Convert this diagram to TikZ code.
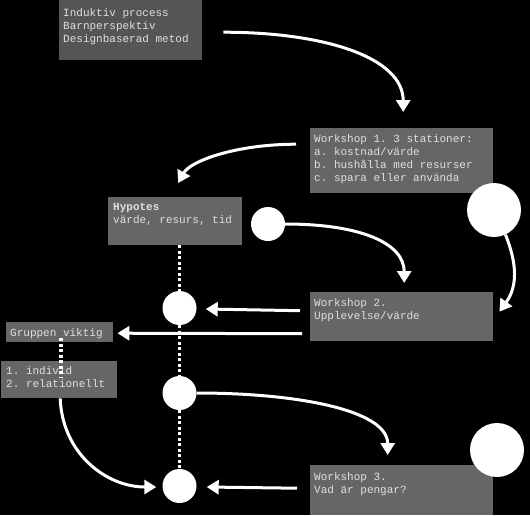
\documentclass[tikz,border=0pt]{standalone}
\usepackage{fontspec}
\setmonofont{Liberation Mono}
\usetikzlibrary{arrows.meta,calc}
\definecolor{boxgray}{HTML}{666666}
\definecolor{boxdark}{HTML}{555555}
\definecolor{txtgray}{HTML}{E0E0E0}
\begin{document}
\begin{tikzpicture}[x=1pt,y=-1pt,
  box/.style={fill=boxgray, inner sep=0, anchor=north west},
  txt/.style={font=\ttfamily\fontsize{11}{13}\selectfont, text=txtgray, align=left, inner sep=0, anchor=north west},
  dot/.style={circle, fill=white, inner sep=0, minimum size=34pt},
  bigdot/.style={circle, fill=white, inner sep=0, minimum size=54pt},
  arr/.style={white, line width=3pt, -{Triangle[width=14pt,length=12pt]}},
  dotline/.style={white, line width=3.5pt, dash pattern=on 3pt off 2.5pt}
]
\fill[black] (0,0) rectangle (530,515);
\useasboundingbox (0,0) rectangle (530,515);

% boxes
\node[box, fill=boxdark, minimum width=143pt, minimum height=60pt] (b1) at (59,0) {};
\node[box, minimum width=183pt, minimum height=65pt] (w1) at (310,128) {};
\node[box, minimum width=134pt, minimum height=48pt] (hyp) at (108,197) {};
\node[box, minimum width=183pt, minimum height=49pt] (w2) at (310,292) {};
\node[box, minimum width=107pt, minimum height=20pt] (grp) at (6,322) {};
\node[box, minimum width=116pt, minimum height=37pt] (ind) at (1,361) {};
\node[box, minimum width=183pt, minimum height=50pt] (w3) at (310,465) {};

% texts
\node[txt] (t1) at (63,8) {Induktiv process\\Barnperspektiv\\Designbaserad metod};
\node[txt] (tw1) at (314,134) {Workshop 1. 3 stationer:\\a. kostnad/värde\\b. hushålla med resurser\\c. spara eller använda};
\node[txt] (thyp) at (113,203) {\textbf{Hypotes}\\värde, resurs, tid};
\node[txt] (tw2) at (314,298) {Workshop 2.\\Upplevelse/värde};
\node[txt] (tgrp) at (10,328) {Gruppen viktig};
\node[txt] (tind) at (6,366) {1. individ\\2. relationellt};
\node[txt] (tw3) at (314,472) {Workshop 3.\\Vad är pengar?};

% circles
\node[dot] (c1) at (268,224) {};
\node[bigdot] (c2) at (494,210) {};
\node[dot] (p1) at (179.5,308) {};
\node[dot] (p2) at (179.5,393) {};
\node[dot] (p3) at (179.5,486) {};
\node[bigdot] (c3) at (497,450) {};

% dotted lines
\draw[dotline] (p1.north |- hyp.south) -- (p1.north);
\draw[dotline] (p1.south) -- (p2.north);
\draw[dotline] (p2.south) -- (p3.north);
\draw[dotline] ($(grp.south)+(1.5,-4)$) -- ($(grp.south)+(1.5,36)$);

% arrows
\draw[arr] ($(b1.east)+(21,2)$) .. controls +(100,0) and +(0,-55) .. ($(w1.north)+(1.5,-16)$);
\draw[arr] ($(w1.west)+(-14,-16.5)$) .. controls +(-60,0) and +(12,-22) .. ($(hyp.north)+(3,-14)$);
\draw[arr] (c1.east) .. controls +(75,0) and +(0,-40) .. ($(w2.north)+(2.5,-9)$);
\draw[arr] (c2.-65) .. controls +(12,30) and +(18,-25) .. ($(w2.east)+(6,-5)$);
\draw[arr] ($(w2.west)+(-10,-6)$) -- ($(p1.east)+(9,1)$);
\draw[arr] ($(w2.west)+(-8,17)$) -- ($(grp.east)+(4,1)$);
\draw[arr] (p2.east) .. controls +(100,0) and +(0,-45) .. ($(w3.north)+(-14,-10)$);
\draw[arr] ($(ind.south)+(1,0)$) .. controls +(2,55) and +(-50,0) .. ($(p3.west)+(-6,1)$);
\draw[arr] ($(w3.west)+(-13,-2)$) -- ($(p3.east)+(10,1)$);
\end{tikzpicture}
\end{document}
